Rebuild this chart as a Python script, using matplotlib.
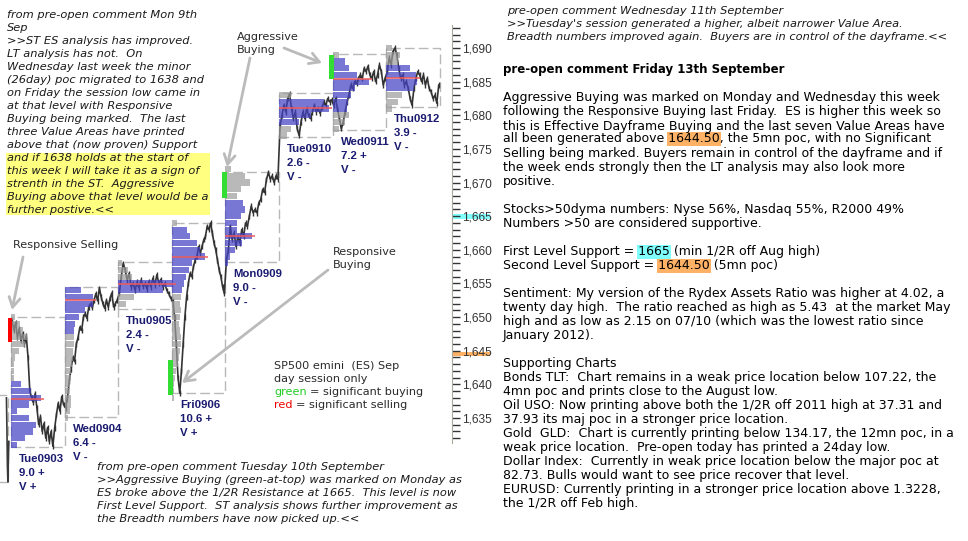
import matplotlib
matplotlib.use("Agg")
import matplotlib.pyplot as plt
import numpy as np
from matplotlib.patches import Rectangle
from matplotlib.ticker import FuncFormatter
from matplotlib.transforms import blended_transform_factory

# ---------------- data ----------------
sessions = ['Tue0903', 'Wed0904', 'Thu0905', 'Fri0906', 'Mon0909', 'Tue0910', 'Wed0911', 'Thu0912']
ranges = ['9.0 +', '6.4 -', '2.4 -', '10.6 +', '9.0 -', '2.6 -', '7.2 +', '3.9 -']
vol_tags = ['V +', 'V -', 'V -', 'V +', 'V -', 'V -', 'V -', 'V -']
session_low = [1630.7, 1635.1, 1651.2, 1638.7, 1658.2, 1676.8, 1677.8, 1681.2]
session_high = [1650.0, 1654.5, 1658.2, 1664.0, 1671.6, 1683.3, 1689.1, 1690.0]

prev_prices = [1638.0, 1633.5, 1628.0, 1625.5, 1629.0, 1631.5]
prev_low, prev_high = 1625.5, 1638.4

price_tue0903 = [1649.5, 1648.0, 1649.2, 1647.0, 1648.3, 1646.5, 1647.6, 1646.0, 1647.2, 1644.0,
                 1639.0, 1638.0, 1637.3, 1638.6, 1636.5, 1634.0, 1635.2, 1633.0, 1634.2, 1632.0,
                 1633.6, 1631.5, 1633.0, 1630.8, 1633.5, 1635.5, 1637.2, 1636.0, 1638.2, 1637.0]
price_wed0904 = [1636.5, 1638.0, 1640.5, 1642.3, 1644.0, 1643.4, 1646.0, 1647.0, 1648.5, 1648.0,
                 1650.0, 1650.5, 1649.8, 1651.5, 1652.0, 1651.4, 1652.5, 1653.5, 1652.4, 1654.3,
                 1653.0, 1652.0, 1651.3, 1652.5, 1651.5, 1652.8, 1653.6, 1651.5, 1652.0, 1652.5]
price_thu0905 = [1653.5, 1656.0, 1658.0, 1657.0, 1655.5, 1656.5, 1654.5, 1655.0, 1654.0, 1655.2,
                 1654.3, 1655.5, 1654.6, 1655.0, 1654.2, 1655.3, 1654.5, 1655.8, 1654.8, 1656.3,
                 1655.0, 1655.6, 1654.5, 1655.0, 1654.0, 1653.5, 1652.8]
price_fri0906 = [1652.5, 1650.0, 1646.0, 1641.0, 1638.7, 1642.0, 1646.0, 1650.0, 1653.0, 1655.0,
                 1656.5, 1656.0, 1657.5, 1658.5, 1659.0, 1660.5, 1659.5, 1660.5, 1661.5, 1662.0,
                 1663.5, 1663.0, 1664.0, 1662.5, 1661.0, 1660.0, 1658.5, 1657.0, 1656.0, 1654.5, 1653.5]
price_mon0909 = [1658.5, 1660.0, 1663.5, 1661.5, 1662.5, 1660.5, 1662.0, 1661.0, 1663.0, 1662.0,
                 1664.0, 1663.5, 1665.0, 1666.5, 1665.5, 1666.0, 1665.5, 1667.0, 1667.5, 1669.0,
                 1668.5, 1670.5, 1671.5, 1670.5, 1671.0, 1670.0, 1671.0, 1670.5]
price_tue0910 = [1678.5, 1680.0, 1681.5, 1680.5, 1682.5, 1683.2, 1681.0, 1679.5, 1680.5, 1678.0,
                 1677.0, 1679.0, 1680.5, 1679.5, 1681.0, 1680.0, 1679.5, 1680.5, 1681.5, 1680.5,
                 1681.0, 1680.3, 1681.2, 1682.0, 1681.5, 1682.5, 1682.0, 1682.3]
price_wed0911 = [1681.5, 1682.5, 1681.0, 1679.5, 1678.0, 1679.0, 1680.5, 1682.0, 1683.0, 1684.5,
                 1684.0, 1685.0, 1684.7, 1685.5, 1686.0, 1685.5, 1687.0, 1686.5, 1687.3, 1686.0,
                 1685.5, 1686.5, 1685.0, 1686.0, 1687.5, 1686.5, 1684.5, 1685.5]
price_thu0912 = [1686.5, 1688.5, 1687.5, 1689.5, 1690.0, 1689.0, 1687.0, 1685.5, 1686.0, 1684.5,
                 1685.0, 1684.0, 1682.5, 1681.5, 1684.0, 1685.5, 1686.5, 1686.0, 1685.0, 1686.0,
                 1684.5, 1685.5, 1684.0, 1683.5, 1682.5, 1683.0, 1681.8, 1684.5]
prices = [price_tue0903, price_wed0904, price_thu0905, price_fri0906,
          price_mon0909, price_tue0910, price_wed0911, price_thu0912]

# volume profiles: first price level and relative width per 1-point level (upwards)
prof_start = [1631, 1635, 1652, 1638, 1658, 1677, 1678, 1681]
prof_tue0903 = [6, 14, 22, 25, 18, 6, 18, 30, 20, 10, 3, 3, 3, 4, 8, 14, 16, 12, 9, 4]
prof_wed0904 = [3, 5, 6, 6, 5, 5, 6, 6, 7, 8, 8, 9, 9, 9, 10, 14, 20, 28, 28, 16]
prof_thu0905 = [8, 16, 45, 55, 14, 10, 4]
prof_fri0906 = [2, 2, 2, 3, 4, 6, 7, 8, 9, 9, 8, 7, 8, 9, 8, 9, 10, 12, 14, 17, 20, 33, 28, 25, 18, 15, 5]
prof_mon0909 = [3, 5, 10, 17, 27, 12, 12, 16, 20, 18, 12, 16, 25, 20, 6]
prof_tue0910 = [8, 12, 20, 32, 50, 45, 12]
prof_wed0911 = [6, 12, 16, 14, 15, 18, 22, 36, 24, 16, 12, 6]
prof_thu0912 = [6, 12, 16, 28, 31, 30, 24, 12, 14, 6]
profiles = [prof_tue0903, prof_wed0904, prof_thu0905, prof_fri0906,
            prof_mon0909, prof_tue0910, prof_wed0911, prof_thu0912]
va_low = [1631, 1648, 1654, 1654, 1658, 1679, 1681, 1684]
va_high = [1640, 1654, 1655, 1663, 1667, 1682, 1688, 1687]
poc = [1637.8, 1652.5, 1654.9, 1658.9, 1662.1, 1681.1, 1685.4, 1685.5]

sig_session = [0, 3, 4, 6]
sig_color = ['#FF0000', '#33DD33', '#33DD33', '#33DD33']
sig_low = [1646.3, 1638.4, 1667.7, 1685.4]
sig_high = [1649.9, 1643.6, 1671.6, 1689.0]

first_support = 1665.0
second_support = 1644.5

# ---------------- figure ----------------
W, H = 968, 541
fig = plt.figure(figsize=(W / 100, H / 100), dpi=100)
fig.patch.set_facecolor('white')
PX = 53.6            # pixels per session
ax = fig.add_axes([0, 0, 452 / W, 1])
ax.set_xlim(-11 / PX, (452 - 11) / PX)
ax.set_ylim(1616.72, 1697.14)
ax.set_facecolor('none')

BLUE = '#4444C4'
GRAY = '#9C9C9C'

# previous session fragment
ax.add_patch(Rectangle((-1.056, prev_low), 1.0, prev_high - prev_low, fill=False,
                       ec='#B8B8B8', lw=1, ls=(0, (7, 3)), zorder=1))
ax.plot(np.linspace(-0.085, -0.04, len(prev_prices)), prev_prices, color='#3A3A3A', lw=1.2, zorder=2)

all_x, all_y = [], []
for i in range(len(sessions)):
    ax.add_patch(Rectangle((i, session_low[i]), 1.0, session_high[i] - session_low[i], fill=False,
                           ec='#B8B8B8', lw=1, ls=(0, (7, 3)), zorder=1))
    widths = np.array(profiles[i], dtype=float)
    lvls = prof_start[i] + np.arange(len(widths))
    inva = (lvls >= va_low[i]) & (lvls <= va_high[i])
    ax.barh(lvls[inva], widths[inva] / PX, height=0.92, left=i, color=BLUE, alpha=0.72,
            lw=0, zorder=3)
    ax.barh(lvls[~inva], widths[~inva] / PX, height=0.92, left=i, color=GRAY, alpha=0.7,
            lw=0, zorder=3)
    ax.hlines(poc[i], i, i + (widths.max() + 3) / PX, color='#F05A5A', lw=1.1, zorder=6)
    p = prices[i]
    xs = i + 0.02 + np.linspace(0, 0.96, len(p))
    all_x.extend(xs)
    all_y.extend(p)
    for k, s in enumerate([sessions[i], ranges[i], vol_tags[i]]):
        ax.annotate(s, xy=(i, session_low[i]), xytext=(8, -12 - 14 * k), textcoords='offset pixels',
                    ha='left', va='center', fontsize=8.2, fontweight='bold', color='#1A1A70',
                    family='Liberation Sans', annotation_clip=False)

all_x = np.array(all_x)
all_y = np.array(all_y)
ax.plot(all_x, all_y, color='#333333', lw=1.2, zorder=2)
ax.vlines(all_x, all_y - 0.4, all_y + 0.4, color='#333333', lw=1.0, zorder=2)

for j, i in enumerate(sig_session):
    ax.add_patch(Rectangle((i - 0.065, sig_low[j]), 0.09, sig_high[j] - sig_low[j],
                           color=sig_color[j], lw=0, zorder=7))

for s in ['left', 'top', 'bottom']:
    ax.spines[s].set_visible(False)
ax.spines['right'].set_color('#A8A89C')
ax.spines['right'].set_bounds(1631.3, 1693.4)
ax.set_xticks([])
ax.yaxis.tick_right()
ax.set_yticks(np.arange(1635, 1691, 5))
ax.set_yticks(np.arange(1632, 1694, 1), minor=True)
ax.yaxis.set_major_formatter(FuncFormatter(lambda v, p: f'{int(round(v)):,}'))
ax.tick_params(axis='y', which='both', direction='out', length=6, width=1, color='#333333',
               labelsize=8.6, pad=1, labelcolor='#333333')
plt.setp(ax.get_yticklabels(), family='Liberation Sans')

bt = blended_transform_factory(ax.transAxes, ax.transData)
ax.add_patch(Rectangle((1.0, first_support - 0.35), 38 / 452, 0.7, transform=bt, color='#80FFFF',
                       lw=0, clip_on=False, zorder=0))
ax.add_patch(Rectangle((1.0, second_support - 0.35), 38 / 452, 0.7, transform=bt, color='#FFB266',
                       lw=0, clip_on=False, zorder=0))

# ---------------- text helpers ----------------
renderer = fig.canvas.get_renderer()


def twidth(s, **kw):
    t = fig.text(0, 0, s, **kw)
    w = t.get_window_extent(renderer).width
    t.remove()
    return w


def ftxt(x, y, s, **kw):
    return fig.text(x / W, 1 - y / H, s, va='center', ha='left', **kw)


def hl_line(x, y, s, word, bg, **kw):
    ftxt(x, y, s, zorder=3, **kw)
    idx = s.index(word)
    end = twidth(s[:idx + len(word)], **kw)
    ww = twidth(word, **kw)
    x0 = x + end - ww
    fig.patches.append(Rectangle(((x0 - 1) / W, 1 - (y + 7) / H), (ww + 2) / W, 14 / H,
                                 transform=fig.transFigure, color=bg, lw=0, zorder=1))


def arrow(x1, y1, x2, y2):
    ax.annotate('', xy=(x2, H - y2), xytext=(x1, H - y1), xycoords='figure pixels',
                textcoords='figure pixels', annotation_clip=False,
                arrowprops=dict(arrowstyle='->,head_length=0.7,head_width=0.4', color='#BBBBBB',
                                lw=2, shrinkA=0, shrinkB=0))


fig.patches.append(Rectangle((6 / W, 1 - 215 / H), 204 / W, 62 / H, transform=fig.transFigure,
                             color='#FFFF80', lw=0, zorder=0))
left_lines = ["from pre-open comment Mon 9th", "Sep", ">>ST ES analysis has improved.",
              "LT analysis has not.  On", "Wednesday last week the minor",
              "(26day) poc migrated to 1638 and", "on Friday the session low came in",
              "at that level with Responsive", "Buying being marked.  The last",
              "three Value Areas have printed", "above that (now proven) Support",
              "and if 1638 holds at the start of", "this week I will take it as a sign of",
              "strenth in the ST.  Aggressive", "Buying above that level would be a",
              "further postive.<<"]
ital = dict(fontsize=8.2, style='italic', family='DejaVu Sans', color='#1A1A1A')
for k, s in enumerate(left_lines):
    ftxt(7, 15 + 13 * k, s, **ital)

bottom_lines = ["from pre-open comment Tuesday 10th September",
                ">>Aggressive Buying (green-at-top) was marked on Monday as",
                "ES broke above the 1/2R Resistance at 1665.  This level is now",
                "First Level Support.  ST analysis shows further improvement as",
                "the Breadth numbers have now picked up.<<"]
for k, s in enumerate(bottom_lines):
    ftxt(97, 467 + 13 * k, s, **ital)

top_lines = ["pre-open comment Wednesday 11th September",
             ">>Tuesday's session generated a higher, albeit narrower Value Area.",
             "Breadth numbers improved again.  Buyers are in control of the dayframe.<<"]
for k, s in enumerate(top_lines):
    ftxt(507, 11 + 13 * k, s, **ital)

ann = dict(fontsize=8.1, family='DejaVu Sans', color='#2A2A2A')
ftxt(237, 37, "Aggressive", **ann)
ftxt(237, 50, "Buying", **ann)
ftxt(13, 245, "Responsive Selling", **ann)
ftxt(333, 252, "Responsive", **ann)
ftxt(333, 265, "Buying", **ann)
arrow(23, 257, 12, 310)
arrow(250, 58, 227, 167)
arrow(284, 48, 322, 63)
arrow(328, 270, 182, 383)

ftxt(274, 366, "SP500 emini  (ES) Sep", **ann)
ftxt(274, 379, "day session only", **ann)
for yy, word, col, rest in [(392, "green", '#22CC22', "= significant buying"),
                            (405, "red", '#EE0000', "= significant selling")]:
    full = word + " " + rest
    ftxt(274, yy, word, fontsize=8.1, family='DejaVu Sans', color=col)
    xr = 274 + twidth(full, **ann) - twidth(rest, **ann)
    ftxt(xr, yy, rest, **ann)

reg = dict(fontsize=9.0, family='DejaVu Sans', color='#000000')
ftxt(503, 70, "pre-open comment Friday 13th September", fontsize=8.5, family='DejaVu Sans',
     fontweight='bold', color='#000000')
right_lines = [
    (98, "Aggressive Buying was marked on Monday and Wednesday this week", None, None),
    (112, "following the Responsive Buying last Friday.  ES is higher this week so", None, None),
    (126, "this is Effective Dayframe Buying and the last seven Value Areas have", None, None),
    (139, "all been generated above 1644.50, the 5mn poc, with no Significant", "1644.50", '#FFB266'),
    (153, "Selling being marked. Buyers remain in control of the dayframe and if", None, None),
    (167, "the week ends strongly then the LT analysis may also look more", None, None),
    (182, "positive.", None, None),
    (210, "Stocks>50dyma numbers: Nyse 56%, Nasdaq 55%, R2000 49%", None, None),
    (224, "Numbers >50 are considered supportive.", None, None),
    (252, "First Level Support = 1665 (min 1/2R off Aug high)", "1665", '#80FFFF'),
    (266, "Second Level Support = 1644.50 (5mn poc)", "1644.50", '#FFB266'),
    (293, "Sentiment: My version of the Rydex Assets Ratio was higher at 4.02, a", None, None),
    (307, "twenty day high.  The ratio reached as high as 5.43  at the market May", None, None),
    (321, "high and as low as 2.15 on 07/10 (which was the lowest ratio since", None, None),
    (335, "January 2012).", None, None),
    (363, "Supporting Charts", None, None),
    (377, "Bonds TLT:  Chart remains in a weak price location below 107.22, the", None, None),
    (391, "4mn poc and prints close to the August low.", None, None),
    (405, "Oil USO: Now printing above both the 1/2R off 2011 high at 37.31 and", None, None),
    (419, "37.93 its maj poc in a stronger price location.", None, None),
    (433, "Gold  GLD:  Chart is currently printing below 134.17, the 12mn poc, in a", None, None),
    (447, "weak price location.  Pre-open today has printed a 24day low.", None, None),
    (461, "Dollar Index:  Currently in weak price location below the major poc at", None, None),
    (475, "82.73. Bulls would want to see price recover that level.", None, None),
    (489, "EURUSD: Currently printing in a stronger price location above 1.3228,", None, None),
    (503, "the 1/2R off Feb high.", None, None),
]
for yy, s, word, col in right_lines:
    if word:
        hl_line(503, yy, s, word, col, **reg)
    else:
        ftxt(503, yy, s, **reg)

fig.savefig('out.png', dpi=100, facecolor='white')
